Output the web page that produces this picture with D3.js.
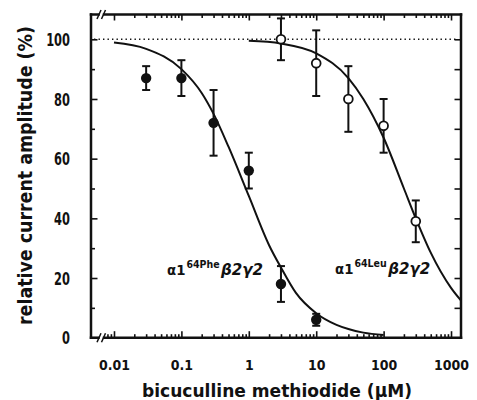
<!DOCTYPE html>
<meta charset="utf-8">
<title>bicuculline methiodide inhibition</title>
<style>
body { margin: 0; background: #fff; }
svg text { font-family: "DejaVu Sans", sans-serif; font-weight: bold; fill: #111; }
</style>
<svg width="477" height="400"></svg>
<script src="https://d3js.org/d3.v7.min.js"></script>
<script>

// measured points, alpha1(64Phe)beta2gamma2 (filled) and alpha1(64Leu)beta2gamma2 (open)
var concPhe = [0.03, 0.1, 0.3, 1, 3, 10];
var ampPhe  = [87, 87, 72, 56, 18, 6];
var errPhe  = [4, 6, 11, 6, 6, 2];

var concLeu = [3, 10, 30, 100, 300];
var ampLeu  = [100, 92, 80, 71, 39];
var errLeu  = [7, 11, 11, 9, 7];

// fitted curves
var fitPheConc = [0.01, 0.03, 0.1, 0.2, 0.3, 0.5, 1, 2, 3, 5, 10, 20, 30, 50, 100];
var fitPheAmp  = [98.9, 96.8, 90, 82, 75, 64, 47.5, 31, 23.5, 15, 8.2, 4.3, 2.9, 1.7, 0.9];
var fitLeuConc = [1, 3, 10, 30, 50, 100, 200, 300, 500, 1000, 1400];
var fitLeuAmp  = [99.5, 98.6, 95.3, 87, 80, 67, 50, 40, 28.5, 16.7, 12.5];

// ticks
var xMajor = [0.01, 0.1, 1, 10, 100, 1000];
var yMajor = [0, 20, 40, 60, 80, 100];
var yMinor = [10, 30, 50, 70, 90];
var yRight = [10, 20, 30, 40, 50, 60, 70, 80, 90, 100];

var svg = d3.select("svg");
// plot box (window.top is taken, so prefixed names)
var pLeft = 91, pRight = 461, pTop = 14.5, pBottom = 337.7;
var ink = "#111";

var x = d3.scaleLog().domain([0.00456, 1406]).range([pLeft, pRight]);
var y = d3.scaleLinear().domain([0, 100]).range([pBottom, 39.3]);

var xMinor = x.ticks().filter(function(d) { return d >= 0.01 && xMajor.indexOf(d) < 0; });

function squash(sel, f) {
  sel.each(function() {
    var w = this.getComputedTextLength();
    d3.select(this).attr("textLength", w * f).attr("lengthAdjust", "spacingAndGlyphs");
  });
}

function tidy(g) {
  g.select(".domain").remove();
  g.attr("color", ink).attr("font-family", null).attr("font-size", null);
  g.selectAll("line").attr("stroke-width", 1.6);
}

//bottom axis
var gb = svg.append("g").attr("transform", "translate(0," + pBottom + ")")
  .call(d3.axisBottom(x).tickValues(xMajor).tickSize(-6.5).tickSizeOuter(0)
    .tickFormat(function(d) { return String(d); }))
  .call(tidy);
gb.selectAll("text").attr("y", 32).attr("dy", 0).style("font-size", "14.6px");
squash(gb.selectAll("text"), 0.86);

svg.append("g").attr("transform", "translate(0," + pBottom + ")")
  .call(d3.axisBottom(x).tickValues(xMinor.concat([0.008, 0.009])).tickSize(-3.5).tickFormat(""))
  .call(tidy);

//top axis
svg.append("g").attr("transform", "translate(0," + pTop + ")")
  .call(d3.axisTop(x).tickValues(xMajor).tickSize(-6).tickFormat(""))
  .call(tidy);
svg.append("g").attr("transform", "translate(0," + pTop + ")")
  .call(d3.axisTop(x).tickValues(xMinor).tickSize(-3.5).tickFormat(""))
  .call(tidy);

//left axis
var gl = svg.append("g").attr("transform", "translate(" + pLeft + ",0)")
  .call(d3.axisLeft(y).tickValues(yMajor).tickSize(-6.5).tickSizeOuter(0))
  .call(tidy);
gl.selectAll("text").attr("x", -21).attr("dy", "0.36em").style("font-size", "16.8px");
squash(gl.selectAll("text"), 0.68);

svg.append("g").attr("transform", "translate(" + pLeft + ",0)")
  .call(d3.axisLeft(y).tickValues(yMinor).tickSize(-4).tickFormat(""))
  .call(tidy);

//right axis
svg.append("g").attr("transform", "translate(" + pRight + ",0)")
  .call(d3.axisRight(y).tickValues(yRight).tickSize(-6.5).tickFormat(""))
  .call(tidy);

//frame with axis breaks
var frame = svg.append("g").attr("stroke", ink).attr("stroke-width", 2.5)
  .attr("stroke-linecap", "square").attr("fill", "none");
[pTop, pBottom].forEach(function(yy) {
  frame.append("line").attr("x1", pLeft).attr("x2", 98.5).attr("y1", yy).attr("y2", yy);
  frame.append("line").attr("x1", 104).attr("x2", pRight).attr("y1", yy).attr("y2", yy);
  [97, 101.5].forEach(function(xx) {
    frame.append("line").attr("stroke-width", 1.5).attr("stroke-linecap", "butt")
      .attr("x1", xx).attr("y1", yy + 4.5).attr("x2", xx + 4).attr("y2", yy - 4.5);
  });
});
frame.append("line").attr("x1", pLeft).attr("x2", pLeft).attr("y1", pTop).attr("y2", pBottom);
frame.append("line").attr("x1", pRight).attr("x2", pRight).attr("y1", pTop).attr("y2", pBottom);

//100% reference
svg.append("line")
  .attr("x1", pLeft + 3).attr("x2", pRight - 3).attr("y1", y(100)).attr("y2", y(100))
  .attr("stroke", ink).attr("stroke-width", 1.4).attr("stroke-dasharray", "1.4,3.1");

//fit curves
var line = d3.line()
  .x(function(d) { return x(d[0]); })
  .y(function(d) { return y(d[1]); })
  .curve(d3.curveMonotoneX);

[[fitPheConc, fitPheAmp], [fitLeuConc, fitLeuAmp]].forEach(function(f) {
  svg.append("path")
    .datum(d3.zip(f[0], f[1]))
    .attr("d", line)
    .attr("fill", "none").attr("stroke", ink).attr("stroke-width", 2);
});

//error bars + points
function drawSeries(conc, amp, err, open) {
  var data = d3.zip(conc, amp, err);
  var g = svg.append("g").attr("stroke", ink).attr("stroke-width", 2);
  g.selectAll(".bar").data(data).enter().append("line")
    .attr("x1", function(d) { return x(d[0]); })
    .attr("x2", function(d) { return x(d[0]); })
    .attr("y1", function(d) { return y(d[1] - d[2]); })
    .attr("y2", function(d) { return y(d[1] + d[2]); });
  [-1, 1].forEach(function(s) {
    g.selectAll(".cap" + s).data(data).enter().append("line")
      .attr("x1", function(d) { return x(d[0]) - 4; })
      .attr("x2", function(d) { return x(d[0]) + 4; })
      .attr("y1", function(d) { return y(d[1] + s * d[2]); })
      .attr("y2", function(d) { return y(d[1] + s * d[2]); });
  });
  g.selectAll("circle").data(data).enter().append("circle")
    .attr("cx", function(d) { return x(d[0]); })
    .attr("cy", function(d) { return y(d[1]); })
    .attr("r", open ? 4.4 : 5.2)
    .attr("fill", open ? "#fff" : ink)
    .attr("stroke-width", open ? 1.8 : 0);
}
drawSeries(concPhe, ampPhe, errPhe, false);
drawSeries(concLeu, ampLeu, errLeu, true);

//curve labels
function label(x0, base, sup) {
  var a = svg.append("text").attr("x", x0).attr("y", base).style("font-size", "14px").text("α1");
  squash(a, 0.95);
  var aw = a.node().getBBox().width;
  var s = svg.append("text").attr("x", x0 + aw + 1).attr("y", base - 6.5)
    .style("font-size", "10.5px").text(sup);
  squash(s, 0.9);
  var sw = s.node().getBBox().width;
  svg.append("text").attr("x", x0 + aw + sw + 2.5).attr("y", base)
    .style("font-size", "15px").style("font-style", "italic")
    .attr("textLength", 42).attr("lengthAdjust", "spacingAndGlyphs")
    .text("β2γ2");
}
label(167, 274.5, "64Phe");
label(335, 273.5, "64Leu");

//axis titles
svg.append("text")
  .attr("x", 277).attr("y", 397)
  .attr("text-anchor", "middle")
  .style("font-size", "18.5px")
  .attr("textLength", 270).attr("lengthAdjust", "spacingAndGlyphs")
  .text("bicuculline methiodide (μM)");

svg.append("text")
  .attr("transform", "translate(32,175.5) rotate(-90)")
  .attr("text-anchor", "middle")
  .style("font-size", "19px")
  .attr("textLength", 299).attr("lengthAdjust", "spacingAndGlyphs")
  .text("relative current amplitude (%)");

</script>
